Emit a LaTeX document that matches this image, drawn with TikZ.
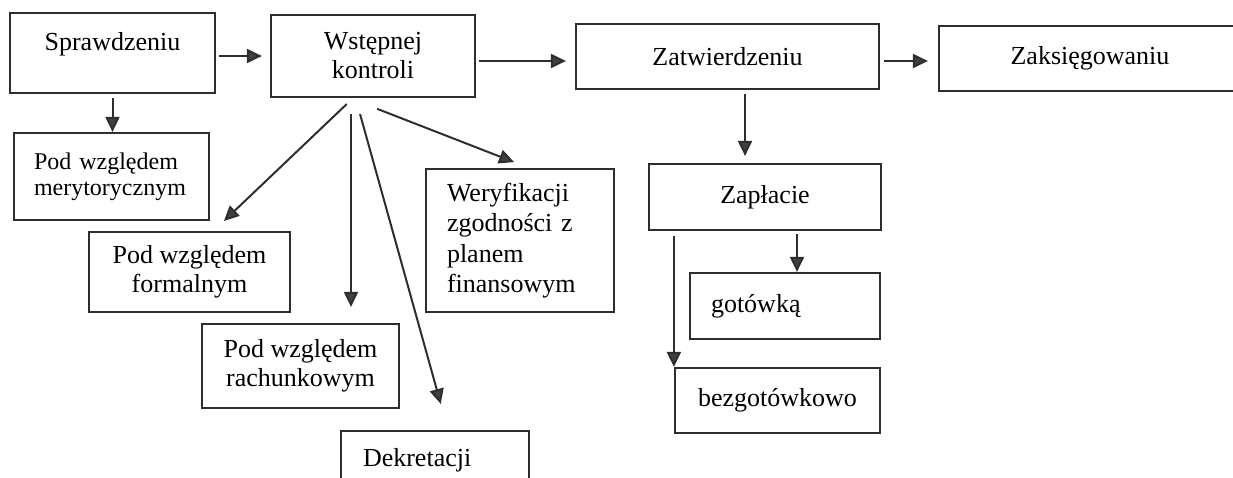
\documentclass[tikz,border=0pt]{standalone}
\usepackage{fontspec}
\setmainfont{Liberation Serif}
\usepackage{xcolor}
\usetikzlibrary{arrows.meta}

\definecolor{linegray}{HTML}{2E2E2E}
\definecolor{tipgray}{HTML}{404040}

\begin{document}
\begin{tikzpicture}[x=1pt, y=-1pt,
    box/.style={draw=linegray, line width=2.2pt, inner sep=0pt, align=center,
      font=\fontsize{26}{29}\selectfont},
    lbox/.style={box, align=left, inner xsep=21pt},
    arr/.style={draw=linegray, line width=2pt,
      -{Triangle[length=15pt, width=14pt, fill=tipgray]}}]
      \clip (0,0) rectangle (1233,477);
      % top row
      \node[box, minimum width=205pt, minimum height=80pt, text depth=23.6pt] (spr) at (112.5,53) {Sprawdzeniu};
      \node[box, minimum width=204pt, minimum height=82pt] (wst) at (373,56) {Wstępnej\\kontroli};
      \node[box, minimum width=303pt, minimum height=65pt] (zat) at (727.5,56.5) {Zatwierdzeniu};
      \node[box, minimum width=302pt, minimum height=65pt] (zak) at (1090,58.5) {Zaksięgowaniu};
      % kontrola
      \node[lbox, inner xsep=20pt, text width=155pt, minimum height=87pt,
        font=\fontsize{24}{26}\selectfont] (meryt) at (111.5,176.5) {Pod względem\\merytorycznym};
      \node[box, minimum width=201pt, minimum height=80pt] (formal) at (189.5,272) {Pod względem\\formalnym};
      \node[box, minimum width=197pt, minimum height=84pt] (rach) at (300.5,366) {Pod względem\\rachunkowym};
      \node[lbox, inner xsep=22pt, text width=144pt, minimum height=58pt] (dek) at (435,460) {Dekretacji};
      \node[lbox, text width=146pt, minimum height=143pt,
        font=\fontsize{26}{30.5}\selectfont] (wer) at (520,240.5) {Weryfikacji\\zgodności z\\planem\\finansowym};
      % zaplata
      \node[box, minimum width=232pt, minimum height=66pt] (zap) at (765,197) {Zapłacie};
      \node[lbox, text width=148pt, minimum height=66pt] (got) at (785,306) {gotówką};
      \node[box, minimum width=205pt, minimum height=65pt] (bez) at (777.5,400.5) {bezgotówkowo};
      % arrows
      \draw[arr, shorten <=3pt, shorten >=8pt] (spr.east |- wst.west) -- (wst.west);
      \draw[arr, shorten <=3pt, shorten >=9pt] ([yshift=-5pt]wst.east) -- ([yshift=-5pt]wst.east -| zat.west);
      \draw[arr, shorten <=4pt, shorten >=10pt] ([yshift=-4.5pt]zat.east) -- ([yshift=-4.5pt]zat.east -| zak.west);
      \draw[arr, shorten <=4pt] (spr.south) -- (spr.south |- meryt.north);
      \draw[arr, shorten <=8.6pt, shorten >=14.4pt] ([xshift=-20pt]wst.south) -- ([xshift=24pt]formal.north);
      \draw[arr, shorten <=16pt, shorten >=16pt] ([xshift=-22pt]wst.south) -- ([xshift=-22pt]wst.south |- rach.north);
      \draw[arr, shorten <=16.6pt, shorten >=27pt] ([xshift=-17.4pt]wst.south) -- ([xshift=13pt]dek.north);
      \draw[arr, shorten <=29.5pt, shorten >=16pt] ([xshift=-23.4pt]wst.south) -- ([xshift=9pt]wer.north);
      \draw[arr, shorten <=4pt, shorten >=7pt] ([xshift=17.5pt]zat.south) -- ([xshift=17.5pt]zat.south |- zap.north);
      \draw[arr, shorten <=3pt] ([xshift=32pt]zap.south) -- ([xshift=32pt]zap.south |- got.north);
      \draw[arr, shorten <=5pt] (zap.south -| bez.west) -- (bez.north west);
\end{tikzpicture}
\end{document}
